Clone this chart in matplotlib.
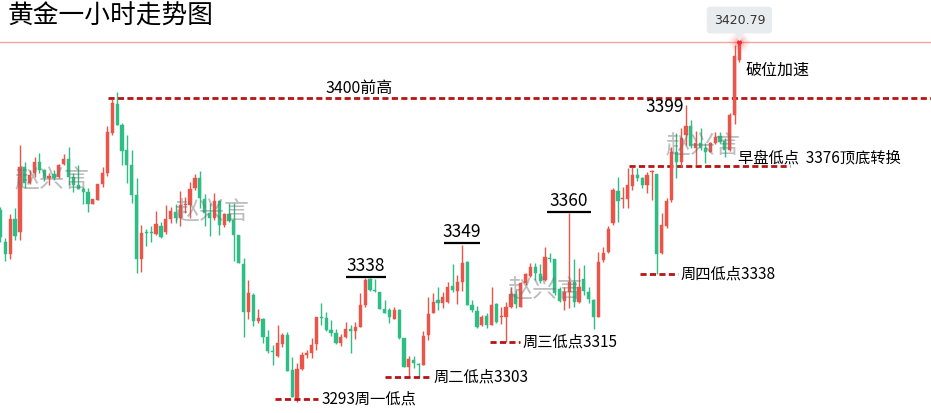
import matplotlib
matplotlib.use("Agg")
import matplotlib.pyplot as plt
import numpy as np

plt.rcParams['font.family'] = ['Noto Sans CJK SC', 'DejaVu Sans']

# ---- hourly gold OHLC ----
opens = [3361.2, 3349.9, 3345.5, 3358.0, 3353.5, 3376.3, 3370.7, 3374.2, 3378.2, 3375.4,
         3372.6, 3373.9, 3372.8, 3377.5, 3379.3, 3372.8, 3370.2, 3368.6, 3367.6, 3363.3,
         3364.7, 3370.4, 3374.4, 3388.7, 3398.9, 3391.4, 3382.5, 3377.2, 3366.5, 3343.8,
         3353.5, 3353.1, 3352.6, 3355.5, 3353.5, 3358.0, 3360.5, 3358.4, 3362.9, 3362.9,
         3368.9, 3372.4, 3365.1, 3360.0, 3358.2, 3364.4, 3355.8, 3359.6, 3357.6, 3352.3,
         3342.0, 3325.0, 3330.9, 3321.8, 3322.3, 3316.1, 3311.1, 3309.3, 3313.5, 3316.7,
         3304.3, 3294.4, 3304.5, 3309.6, 3310.2, 3313.5, 3323.2, 3322.6, 3318.5, 3317.3,
         3313.8, 3315.9, 3318.7, 3318.3, 3319.4, 3327.4, 3336.5, 3332.7, 3331.9, 3326.0,
         3325.6, 3322.4, 3325.6, 3315.5, 3305.2, 3307.8, 3306.4, 3306.1, 3316.7, 3324.4,
         3329.2, 3328.2, 3328.6, 3334.2, 3332.5, 3335.7, 3342.8, 3327.4, 3325.4, 3320.3,
         3323.5, 3320.3, 3327.8, 3323.2, 3323.2, 3326.8, 3331.3, 3326.8, 3335.3, 3337.8,
         3340.8, 3338.4, 3336.3, 3344.2, 3343.6, 3333.0, 3328.9, 3332.1, 3335.7, 3328.6,
         3336.6, 3331.9, 3329.2, 3323.2, 3343.4, 3346.1, 3356.4, 3367.9, 3365.0, 3365.0,
         3369.8, 3373.6, 3372.7, 3370.1, 3374.6, 3373.9, 3345.8, 3355.6, 3364.7, 3381.9,
         3378.4, 3387.8, 3391.2, 3383.1, 3384.9, 3383.1, 3381.9, 3384.9, 3387.5, 3385.7,
         3382.5, 3395.0, 3414.5]
highs = [3362.1, 3351.1, 3359.7, 3361.9, 3384.3, 3378.4, 3375.4, 3380.1, 3381.3, 3375.6,
         3374.2, 3375.4, 3377.5, 3381.0, 3383.5, 3374.4, 3377.2, 3369.5, 3368.9, 3365.1,
         3370.4, 3376.3, 3391.0, 3400.5, 3403.2, 3392.0, 3387.8, 3382.5, 3372.4, 3355.8,
         3354.3, 3355.5, 3360.8, 3357.0, 3362.9, 3362.1, 3363.3, 3367.9, 3365.9, 3371.2,
         3374.0, 3375.2, 3366.7, 3363.5, 3367.3, 3364.7, 3360.0, 3363.5, 3363.5, 3352.3,
         3344.0, 3336.3, 3331.8, 3325.8, 3322.6, 3318.5, 3313.2, 3320.3, 3317.3, 3317.9,
         3308.8, 3306.6, 3310.8, 3311.4, 3315.5, 3323.2, 3328.0, 3325.0, 3322.1, 3318.7,
         3317.1, 3321.5, 3320.3, 3321.5, 3331.5, 3336.9, 3336.9, 3336.5, 3331.9, 3329.2,
         3326.4, 3326.6, 3325.9, 3315.5, 3309.3, 3309.4, 3306.9, 3318.2, 3330.4, 3331.5,
         3333.9, 3332.1, 3335.7, 3341.9, 3338.1, 3348.7, 3343.2, 3329.2, 3327.0, 3323.8,
         3324.4, 3333.7, 3328.2, 3326.8, 3328.6, 3333.7, 3332.7, 3335.7, 3338.7, 3342.4,
         3342.2, 3342.0, 3348.1, 3345.8, 3343.6, 3333.9, 3333.9, 3360.0, 3343.6, 3340.4,
         3341.6, 3333.7, 3329.4, 3346.4, 3348.1, 3355.3, 3368.9, 3373.0, 3369.5, 3376.0,
         3376.6, 3376.0, 3373.0, 3374.8, 3375.4, 3373.9, 3360.0, 3365.3, 3383.7, 3388.4,
         3390.2, 3398.5, 3393.2, 3389.3, 3390.5, 3384.9, 3385.2, 3388.8, 3388.8, 3386.7,
         3395.6, 3419.8, 3420.79]
lows = [3349.9, 3343.2, 3343.9, 3350.5, 3350.5, 3369.1, 3370.3, 3372.8, 3374.4, 3371.4,
        3370.1, 3371.8, 3372.4, 3377.2, 3370.2, 3367.7, 3368.5, 3363.4, 3360.6, 3363.3,
        3364.7, 3369.5, 3373.3, 3387.8, 3391.5, 3377.2, 3370.9, 3363.5, 3338.9, 3339.2,
        3348.5, 3349.8, 3352.3, 3351.3, 3352.5, 3356.7, 3356.7, 3355.6, 3360.0, 3358.2,
        3368.3, 3361.8, 3355.6, 3352.0, 3357.6, 3352.3, 3355.2, 3357.0, 3343.2, 3342.2,
        3315.9, 3322.3, 3319.9, 3320.9, 3313.8, 3310.2, 3306.1, 3308.8, 3312.6, 3304.0,
        3294.8, 3293.0, 3304.3, 3308.4, 3308.4, 3311.4, 3320.3, 3318.3, 3316.4, 3313.4,
        3312.9, 3315.5, 3310.2, 3315.3, 3319.4, 3326.8, 3332.4, 3331.9, 3326.0, 3324.4,
        3320.9, 3322.4, 3315.3, 3305.2, 3301.3, 3304.9, 3301.9, 3306.1, 3314.9, 3324.4,
        3325.6, 3326.2, 3328.0, 3332.1, 3327.8, 3332.5, 3327.4, 3325.0, 3319.1, 3319.9,
        3319.1, 3320.3, 3321.1, 3320.6, 3314.1, 3326.4, 3326.4, 3326.8, 3334.5, 3337.5,
        3336.3, 3335.1, 3336.0, 3342.8, 3331.0, 3328.6, 3325.6, 3326.2, 3326.8, 3328.0,
        3331.0, 3328.0, 3318.7, 3323.2, 3342.8, 3345.8, 3355.8, 3357.0, 3361.8, 3361.8,
        3368.3, 3371.3, 3368.9, 3367.1, 3364.7, 3338.3, 3345.4, 3354.9, 3364.1, 3372.4,
        3376.6, 3384.3, 3383.1, 3377.2, 3382.5, 3377.8, 3381.7, 3384.5, 3384.9, 3380.1,
        3382.2, 3391.6, 3413.9]
closes = [3351.7, 3345.5, 3358.0, 3352.0, 3376.3, 3370.9, 3373.6, 3378.2, 3375.4, 3372.4,
          3373.3, 3372.4, 3377.1, 3379.3, 3372.8, 3370.1, 3368.6, 3367.6, 3363.3, 3365.1,
          3370.4, 3374.2, 3388.8, 3399.1, 3391.5, 3382.3, 3377.2, 3366.5, 3343.8, 3352.9,
          3353.1, 3352.9, 3356.2, 3351.7, 3358.0, 3360.8, 3358.4, 3362.9, 3363.4, 3368.6,
          3372.4, 3365.3, 3360.0, 3358.4, 3364.4, 3355.8, 3359.6, 3357.4, 3352.3, 3342.2,
          3325.0, 3331.5, 3321.8, 3322.6, 3316.1, 3311.0, 3310.6, 3313.8, 3316.7, 3304.0,
          3294.8, 3304.5, 3309.6, 3310.2, 3313.2, 3323.2, 3322.9, 3318.5, 3317.5, 3313.8,
          3315.9, 3318.7, 3318.0, 3319.4, 3327.4, 3336.3, 3332.7, 3332.5, 3326.0, 3324.7,
          3323.0, 3325.6, 3315.5, 3305.2, 3308.1, 3306.7, 3306.1, 3316.4, 3324.2, 3328.6,
          3328.2, 3330.4, 3333.9, 3332.7, 3335.7, 3342.4, 3327.4, 3325.6, 3319.7, 3323.2,
          3320.3, 3327.4, 3321.5, 3323.5, 3326.8, 3331.3, 3327.6, 3335.3, 3338.4, 3340.8,
          3338.7, 3336.0, 3344.6, 3343.8, 3331.5, 3328.9, 3332.1, 3335.7, 3328.6, 3333.7,
          3332.5, 3329.4, 3323.2, 3342.8, 3346.0, 3354.4, 3368.3, 3364.4, 3365.3, 3370.1,
          3373.6, 3372.7, 3370.1, 3373.6, 3374.8, 3345.4, 3355.8, 3364.4, 3381.9, 3378.4,
          3386.9, 3391.2, 3384.1, 3384.9, 3383.1, 3381.9, 3384.9, 3387.3, 3385.5, 3382.5,
          3395.0, 3416.1, 3419.8]

title = "黄金一小时走势图"
last_price_label = "3420.79"
watermark = "赵兴言"

UP = '#eb5448'
DOWN = '#2ebd85'
DASH_RED = '#b81414'

o = np.array(opens); h = np.array(highs); l = np.array(lows); c = np.array(closes)
idx = np.arange(len(o))
up = c >= o
cols = np.where(up, UP, DOWN)

fig = plt.figure(figsize=(9.31, 4.13), dpi=100)
ax = fig.add_axes([0, 0, 1, 1])
ax.set_xlim(-0.1, 191.4)
ax.set_ylim(3288.98, 3435.84)
ax.axis('off')

# wicks and bodies
ax.vlines(idx, l, h, colors=cols, linewidth=1.0, zorder=3)
bottom = np.minimum(o, c)
height = np.maximum(np.abs(c - o), 0.35)
ax.bar(idx, height, bottom=bottom, width=0.66, color=cols, edgecolor=cols,
       linewidth=0.3, zorder=4)

last = len(o) - 1
# current-price line
ax.axhline(h[last], color='#f5a3a3', lw=1.0, zorder=2)
# glow dot at the top
for s, a in [(220, 0.06), (120, 0.10), (55, 0.18)]:
    ax.scatter([last], [h[last]], s=s, color='#ff4040', alpha=a, lw=0, zorder=5)
ax.scatter([last], [h[last]], s=14, color='#f03030', lw=0, zorder=6)

# tooltip
ax.text(last, 3428.7, last_price_label, ha='center', va='center', fontsize=9,
        color='#333333', family=['DejaVu Sans'],
        bbox=dict(boxstyle='round,pad=0.55,rounding_size=0.3', fc='#e9ecef', ec='none'),
        zorder=7)
ax.plot([last], [3423.4], marker='v', ms=7, color='#e9ecef', zorder=7)

dash = (0, (2.2, 1.2))
LW = 2.0
# 3400 previous high
ax.hlines(3401.0, 22.1, 191.4, colors=DASH_RED, linestyles=dash, lw=LW, zorder=2)
ax.text(66.8, 3404.4, "3400前高", fontsize=11.5, ha='left', va='center', color='black')

# 3376 support
ax.hlines(3376.8, 129.3, 162.4, colors=DASH_RED, linestyles=dash, lw=LW, zorder=2)
ax.text(151.7, 3379.7, "早盘低点  3376顶底转换", fontsize=11, ha='left', va='center',
        color='black')

ax.text(132.6, 3397.8, "3399", fontsize=12.5, ha='left', va='center', color='black')
ax.text(153.2, 3411.0, "破位加速", fontsize=11.5, ha='left', va='center', color='black')

# highs with underline
for lvl, x0, x1, lab in [(3337.3, 71.1, 79.3, "3338"),
                         (3349.4, 91.2, 98.6, "3349"),
                         (3360.5, 112.4, 121.5, "3360")]:
    ax.hlines(lvl, x0, x1, colors='black', lw=1.6, zorder=6)
    ax.text((x0 + x1) / 2, lvl + 0.7, lab, fontsize=12.5, ha='center', va='bottom',
            color='black')

# lows with dashed markers
for lvl, x0, x1, lab, tx in [(3338.4, 131.6, 139.4, "周四低点3338", 139.8),
                             (3314.2, 100.7, 106.9, "周三低点3315", 107.3),
                             (3301.7, 79.1, 88.8, "周二低点3303", 89.0),
                             (3293.8, 56.5, 65.3, "3293周一低点", 66.1)]:
    ax.hlines(lvl, x0, x1, colors=DASH_RED, linestyles=dash, lw=LW, zorder=6)
    ax.text(tx, lvl, lab, fontsize=11, ha='left', va='center', color='black')

# title
ax.text(8 / 931, 1 - 17 / 413, title, transform=ax.transAxes, fontsize=18.5,
        ha='left', va='center', color='black')

# watermarks
for xp, yp in [(52, 180), (212, 212), (545, 290), (703, 146)]:
    ax.text(xp / 931, 1 - yp / 413, watermark, transform=ax.transAxes, fontsize=18,
            ha='center', va='center', color='#707070', alpha=0.45, zorder=8)

fig.savefig("out.png", dpi=100)
